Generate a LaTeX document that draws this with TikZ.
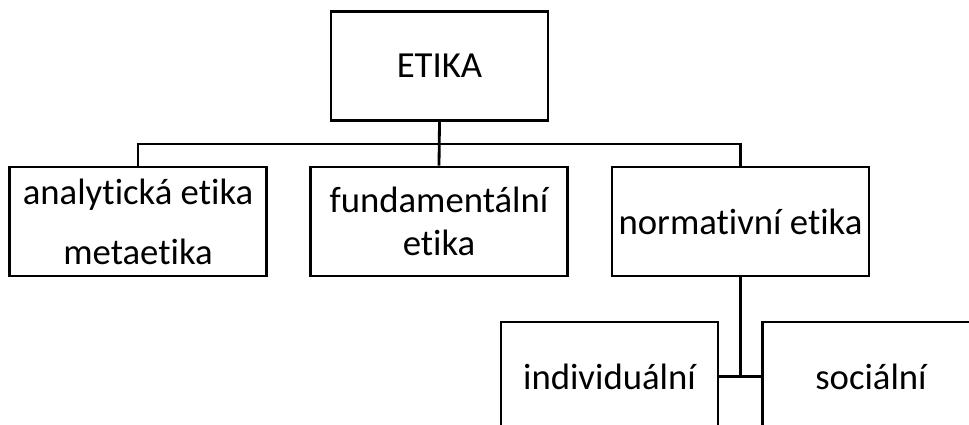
\documentclass[tikz,border=0pt]{standalone}
\usepackage{fontspec}
\setmainfont{Carlito}[Ligatures=NoCommon]
\usetikzlibrary{positioning}

\begin{document}
\begin{tikzpicture}[x=0.02cm,y=-0.02cm,line width=1.6pt,
  box/.style={draw,align=center,inner sep=1pt,minimum width=5.14cm,minimum height=2.18cm,
    font=\fontsize{20.9}{22.8}\selectfont},
  smallbox/.style={box,minimum width=4.34cm}]
  \useasboundingbox (0,0) rectangle (969,425);
  \clip (0,0) rectangle (969,425);
  \node[smallbox] (etika) at (439.5,66) {ETIKA};
  \node[box] (analyticka) at (138,221.5) {analytická etika\\[11.3pt]metaetika};
  \node[box] (fundamentalni) at (439,221.5) {fundamentální\\[1.7pt]etika};
  \node[box] (normativni) at (740.5,221.5) {normativní etika};
  \node[smallbox] (individualni) at (609.5,376.5) {individuální};
  \node[smallbox] (socialni) at (871,376.5) {sociální};
  \coordinate (bus) at (439.5,144);
  \draw (etika.south) -- (fundamentalni.north);
  \draw (analyticka.north) |- (bus) -| (normativni.north);
  \draw (normativni.south) -- (normativni.south |- individualni.east);
  \draw (individualni.east) -- (socialni.west);
\end{tikzpicture}
\end{document}
